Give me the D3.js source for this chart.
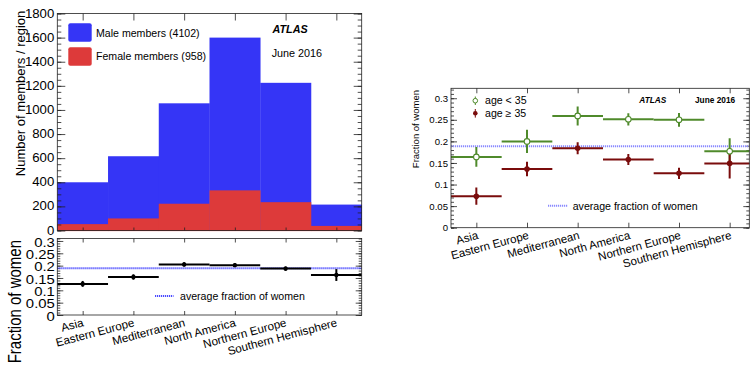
<!DOCTYPE html>
<html><head><meta charset="utf-8">
<script src="https://cdn.jsdelivr.net/npm/d3@7"></script>
<style>
body{margin:0;background:#fff}
svg{display:block}
text{font-family:"Liberation Sans",Arial,Helvetica,sans-serif;fill:#000}
</style>
</head><body>
<svg id="c" width="750" height="367"></svg>
<script>
// ---------------- data ----------------
const regions = ["Asia","Eastern Europe","Mediterranean","North America","Northern Europe","Southern Hemisphere"];
const maleMembers   = [347, 516, 833, 1267, 990, 177];
const femaleMembers = [53, 100, 222, 333, 235, 38];
const womenFraction    = [0.126, 0.154, 0.205, 0.202, 0.188, 0.162];
const womenFractionErr = [0.012, 0.011, 0.009, 0.008, 0.009, 0.024];
const under35Fraction  = [0.164, 0.200, 0.259, 0.251, 0.250, 0.177];
const under35Err       = [0.023, 0.027, 0.022, 0.014, 0.016, 0.030];
const over35Fraction   = [0.073, 0.136, 0.184, 0.158, 0.126, 0.149];
const over35Err        = [0.020, 0.017, 0.014, 0.013, 0.013, 0.035];
const averageFraction = 0.189;
const histTicks = [0,200,400,600,800,1000,1200,1400,1600,1800];
const histTickLabels = ["0","200","400","600","800","1000","1200","1400","1600","1800"];
const fracTicks = [0,0.05,0.1,0.15,0.2,0.25,0.3];
const fracTickLabels = ["0","0.05","0.1","0.15","0.2","0.25","0.3"];

const BLUE = "#3535f6", RED = "#dd3a3a", GREEN = "#4f8a2b", DRED = "#7a0c0c", AVG = "#4a4aff", AVG2 = "#8a8aff";
const svg = d3.select("#c");
const centers = regions.map((d,i)=>i+0.5);

function frame(g, x0, x1, y0, y1){
  g.append("rect").attr("x",x0).attr("y",y1).attr("width",x1-x0).attr("height",y0-y1)
   .attr("fill","none").attr("stroke","#222").attr("stroke-width",0.8);
}
function cleanAxis(sel){ sel.select(".domain").remove(); sel.selectAll(".tick line").attr("stroke","#222").attr("stroke-width",0.8); }

// ================= LEFT: histogram =================
const xL = d3.scaleLinear().domain([0,6]).range([57.3,361.7]);
const yH = d3.scaleLinear().domain([0,1800]).range([230.5,13.5]);
const gH = svg.append("g");
const stack = regions.map((r,i)=>({i, female: femaleMembers[i], total: femaleMembers[i]+maleMembers[i]}));
gH.selectAll("rect.male").data(stack).join("rect").attr("class","male")
  .attr("x",d=>xL(d.i)).attr("width",d=>xL(d.i+1)-xL(d.i)+0.3)
  .attr("y",d=>yH(d.total)).attr("height",d=>yH(0)-yH(d.total)).attr("fill",BLUE);
gH.selectAll("rect.female").data(stack).join("rect").attr("class","female")
  .attr("x",d=>xL(d.i)).attr("width",d=>xL(d.i+1)-xL(d.i)+0.3)
  .attr("y",d=>yH(d.female)).attr("height",d=>yH(0)-yH(d.female)+0.6).attr("fill",RED);

// axes
let a = gH.append("g").attr("transform",`translate(${xL(0)},0)`)
  .call(d3.axisLeft(yH).tickValues(histTicks).tickSize(-8).tickPadding(3).tickFormat((d,i)=>histTickLabels[i]));
cleanAxis(a); a.selectAll("text").style("font-size","13.2px").attr("dy","0.27em");
a = gH.append("g").attr("transform",`translate(${xL(0)},0)`)
  .call(d3.axisLeft(yH).tickValues(d3.range(0,1801,50)).tickSize(-4).tickFormat(""));
cleanAxis(a);
a = gH.append("g").attr("transform",`translate(${xL(6)},0)`)
  .call(d3.axisRight(yH).tickValues(histTicks).tickSize(-8).tickFormat(""));
cleanAxis(a);
a = gH.append("g").attr("transform",`translate(${xL(6)},0)`)
  .call(d3.axisRight(yH).tickValues(d3.range(0,1801,50)).tickSize(-4).tickFormat(""));
cleanAxis(a);
a = gH.append("g").attr("transform",`translate(0,${yH(1800)})`)
  .call(d3.axisTop(xL).tickValues(centers).tickSize(-7).tickFormat(""));
cleanAxis(a);
a = gH.append("g").attr("transform",`translate(0,${yH(0)})`)
  .call(d3.axisBottom(xL).tickValues(centers).tickSize(-3).tickFormat(""));
cleanAxis(a);
frame(gH, xL(0), xL(6), yH(0), yH(1800));

gH.append("text").attr("transform","translate(24.5,10.7) rotate(-90)").attr("text-anchor","end")
  .style("font-size","13px").text("Number of members / region");

// legend
gH.append("rect").attr("x",68.3).attr("y",23.3).attr("width",23.4).attr("height",18.4).attr("rx",2).attr("fill",BLUE);
gH.append("rect").attr("x",68.3).attr("y",47.3).attr("width",23.4).attr("height",18.4).attr("rx",2).attr("fill",RED);
gH.append("text").attr("x",96).attr("y",36.6).style("font-size","10.6px").text("Male members (4102)");
gH.append("text").attr("x",96).attr("y",60).style("font-size","10.6px").text("Female members (958)");
gH.append("text").attr("x",272.5).attr("y",33.3).style("font-size","10.8px").style("font-weight","bold").style("font-style","italic").text("ATLAS");
gH.append("text").attr("x",271.7).attr("y",56.7).style("font-size","10.8px").text("June 2016");

// ================= LEFT: ratio pad =================
const yR = d3.scaleLinear().domain([0,0.31]).range([315,238.5]);
const gR = svg.append("g");
a = gR.append("g").attr("transform",`translate(${xL(0)},0)`)
  .call(d3.axisLeft(yR).tickValues(fracTicks).tickSize(-6).tickPadding(3).tickFormat((d,i)=>fracTickLabels[i]));
cleanAxis(a);
a.selectAll("text").style("font-size","12.4px").attr("dy","0.43em")
  .attr("transform","scale(1.2,1)").attr("x",-2.5/1.2);
a = gR.append("g").attr("transform",`translate(${xL(0)},0)`)
  .call(d3.axisLeft(yR).tickValues(d3.range(0,0.311,0.01)).tickSize(-3).tickFormat(""));
cleanAxis(a);
a = gR.append("g").attr("transform",`translate(${xL(6)},0)`)
  .call(d3.axisRight(yR).tickValues(fracTicks).tickSize(-6).tickFormat(""));
cleanAxis(a);
a = gR.append("g").attr("transform",`translate(${xL(6)},0)`)
  .call(d3.axisRight(yR).tickValues(d3.range(0,0.311,0.01)).tickSize(-3).tickFormat(""));
cleanAxis(a);
a = gR.append("g").attr("transform",`translate(0,${yR(0.31)})`)
  .call(d3.axisTop(xL).tickValues(centers).tickSize(-4).tickFormat(""));
cleanAxis(a);
a = gR.append("g").attr("transform",`translate(0,${yR(0)})`)
  .call(d3.axisBottom(xL).tickValues(centers).tickSize(-4).tickFormat((d,i)=>regions[i]));
cleanAxis(a);
a.selectAll("text").attr("y",0).attr("dy",0).attr("text-anchor","end")
  .attr("transform","translate(1,11) rotate(-15)").style("font-size","11.6px");

// average line
gR.append("line").attr("x1",xL(0)).attr("x2",xL(6)).attr("y1",yR(averageFraction)).attr("y2",yR(averageFraction))
  .attr("stroke",AVG).attr("stroke-width",2).attr("stroke-dasharray","1.2,0.8");
// points
const ratioData = regions.map((r,i)=>({i, v: womenFraction[i], e: womenFractionErr[i]}));
gR.selectAll("line.h").data(ratioData).join("line").attr("class","h")
  .attr("x1",d=>xL(d.i)).attr("x2",d=>xL(d.i+1)).attr("y1",d=>yR(d.v)).attr("y2",d=>yR(d.v))
  .attr("stroke","#000").attr("stroke-width",2);
gR.selectAll("line.v").data(ratioData).join("line").attr("class","v")
  .attr("x1",d=>xL(d.i+0.5)).attr("x2",d=>xL(d.i+0.5)).attr("y1",d=>yR(d.v-d.e)).attr("y2",d=>yR(d.v+d.e))
  .attr("stroke","#000").attr("stroke-width",2);
gR.selectAll("circle").data(ratioData).join("circle")
  .attr("cx",d=>xL(d.i+0.5)).attr("cy",d=>yR(d.v)).attr("r",2.2).attr("fill","#000");
frame(gR, xL(0), xL(6), yR(0), yR(0.31));
gR.append("line").attr("x1",155).attr("x2",173.5).attr("y1",296).attr("y2",296)
  .attr("stroke",AVG).attr("stroke-width",2).attr("stroke-dasharray","1.2,0.8");
gR.append("text").attr("x",180).attr("y",299.8).style("font-size","10.6px").text("average fraction of women");
gR.append("text").attr("transform","translate(20.8,240) rotate(-90) scale(1,1.22)").attr("text-anchor","end")
  .style("font-size","15px").text("Fraction of women");

// ================= RIGHT panel =================
const xR = d3.scaleLinear().domain([0,6]).range([451,755]);
const yA = d3.scaleLinear().domain([0,0.323]).range([227.7,88.3]);
const RX1 = 749.3;
svg.append("defs").append("clipPath").attr("id","clipR").append("rect")
  .attr("x",451).attr("y",80).attr("width",RX1-451).attr("height",160);
const gA = svg.append("g");
a = gA.append("g").attr("transform",`translate(451,0)`)
  .call(d3.axisLeft(yA).tickValues(fracTicks).tickSize(-6).tickPadding(3).tickFormat((d,i)=>fracTickLabels[i]));
cleanAxis(a); a.selectAll("text").style("font-size","9.6px");
a = gA.append("g").attr("transform",`translate(451,0)`)
  .call(d3.axisLeft(yA).tickValues(d3.range(0,0.321,0.01)).tickSize(-3).tickFormat(""));
cleanAxis(a);
a = gA.append("g").attr("transform",`translate(${RX1},0)`)
  .call(d3.axisRight(yA).tickValues(fracTicks).tickSize(-6).tickFormat(""));
cleanAxis(a);
a = gA.append("g").attr("transform",`translate(${RX1},0)`)
  .call(d3.axisRight(yA).tickValues(d3.range(0,0.321,0.01)).tickSize(-3).tickFormat(""));
cleanAxis(a);
a = gA.append("g").attr("transform",`translate(0,${yA(0.323)})`)
  .call(d3.axisTop(xR).tickValues(centers).tickSize(-5).tickFormat(""));
cleanAxis(a);
a = gA.append("g").attr("transform",`translate(0,${yA(0)})`)
  .call(d3.axisBottom(xR).tickValues(centers).tickSize(-5).tickFormat((d,i)=>regions[i]));
cleanAxis(a);
a.selectAll("text").attr("y",0).attr("dy",0).attr("text-anchor","end")
  .attr("transform","translate(2,11) rotate(-15)").style("font-size","11.5px");

const gP = gA.append("g").attr("clip-path","url(#clipR)");
gP.append("line").attr("x1",451).attr("x2",RX1).attr("y1",yA(averageFraction)).attr("y2",yA(averageFraction))
  .attr("stroke",AVG2).attr("stroke-width",2).attr("stroke-dasharray","1.2,0.8");
function series(data, err, color, cls){
  const d = regions.map((r,i)=>({i, v:data[i], e:err[i]}));
  gP.selectAll("line.h"+cls).data(d).join("line").attr("class","h"+cls)
    .attr("x1",d=>xR(d.i)).attr("x2",d=>xR(d.i+1)).attr("y1",d=>yA(d.v)).attr("y2",d=>yA(d.v))
    .attr("stroke",color).attr("stroke-width",2);
  gP.selectAll("line.v"+cls).data(d).join("line").attr("class","v"+cls)
    .attr("x1",d=>xR(d.i+0.5)).attr("x2",d=>xR(d.i+0.5)).attr("y1",d=>yA(d.v-d.e)).attr("y2",d=>yA(d.v+d.e))
    .attr("stroke",color).attr("stroke-width",2);
  return d;
}
const dU = series(under35Fraction, under35Err, GREEN, "u");
const dO = series(over35Fraction, over35Err, DRED, "o");
gP.selectAll("circle.u").data(dU).join("circle").attr("class","u")
  .attr("cx",d=>xR(d.i+0.5)).attr("cy",d=>yA(d.v)).attr("r",2.8).attr("fill","#fff").attr("stroke",GREEN).attr("stroke-width",1.1);
gP.selectAll("circle.o").data(dO).join("circle").attr("class","o")
  .attr("cx",d=>xR(d.i+0.5)).attr("cy",d=>yA(d.v)).attr("r",2.8).attr("fill",DRED);
frame(gA, 451, RX1, yA(0), yA(0.323));

gA.append("text").attr("transform","translate(418.5,90) rotate(-90)").attr("text-anchor","end")
  .style("font-size","9.5px").text("Fraction of women");
// legend
gA.append("line").attr("x1",475.3).attr("x2",475.3).attr("y1",96.5).attr("y2",105).attr("stroke",GREEN).attr("stroke-width",1);
gA.append("circle").attr("cx",475.3).attr("cy",100.7).attr("r",2.3).attr("fill","#fff").attr("stroke",GREEN).attr("stroke-width",1);
gA.append("line").attr("x1",475.3).attr("x2",475.3).attr("y1",109).attr("y2",117.6).attr("stroke",DRED).attr("stroke-width",1);
gA.append("circle").attr("cx",475.3).attr("cy",113.3).attr("r",2.3).attr("fill",DRED);
gA.append("text").attr("x",485).attr("y",104.4).style("font-size","10.6px").text("age < 35");
gA.append("text").attr("x",485).attr("y",117).style("font-size","10.6px").text("age \u2265 35");
gA.append("text").attr("x",639.3).attr("y",103).style("font-size","8.3px").style("font-weight","bold").style("font-style","italic").text("ATLAS");
gA.append("text").attr("x",695).attr("y",103).style("font-size","8.3px").style("font-weight","bold").text("June 2016");
gA.append("line").attr("x1",548).attr("x2",568).attr("y1",205.7).attr("y2",205.7)
  .attr("stroke",AVG2).attr("stroke-width",2).attr("stroke-dasharray","1.2,0.8");
gA.append("text").attr("x",572.7).attr("y",209.5).style("font-size","10.6px").text("average fraction of women");
</script>
</body></html>
